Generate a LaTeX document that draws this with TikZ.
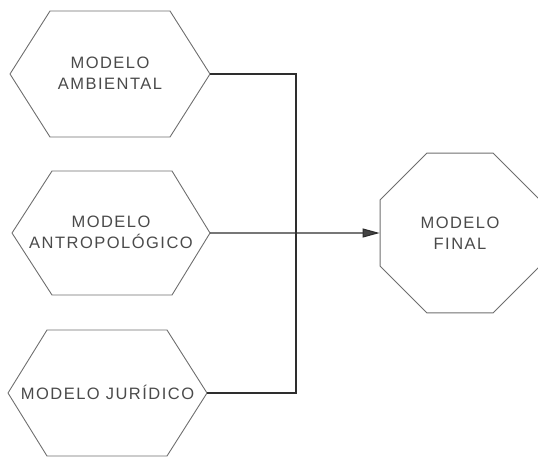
\documentclass[tikz,border=0pt]{standalone}
\usepackage{fontspec}
\setmainfont{Liberation Sans}[LetterSpace=9]
\usetikzlibrary{shapes.geometric,arrows.meta}
\definecolor{shapegray}{HTML}{6E6E6E}
\definecolor{txtgray}{HTML}{4A4A4A}
\definecolor{linegray}{HTML}{2E2E2E}
\definecolor{tipgray}{HTML}{444444}
\tikzset{
  shapeline/.style={draw=shapegray, line width=0.9pt, line join=round},
  lbl/.style={font=\fontsize{16.5}{21}\selectfont, text=txtgray, align=center, inner sep=0pt},
  conn/.style={draw=linegray, line width=1.1pt},
  octa/.style={regular polygon, regular polygon sides=8, minimum size=173pt, inner sep=0pt,
    draw=shapegray, line width=0.9pt, font=\fontsize{16.5}{21}\selectfont, text=txtgray, align=center}
}
\newcommand\hexa[8]{% name, left, right, cy, halfh, topleft, topright, text
  \draw[shapeline] (#2,#4) -- (#6,#4-#5) -- (#7,#4-#5) -- (#3,#4) -- (#7,#4+#5) -- (#6,#4+#5) -- cycle;
  \coordinate (#1E) at (#3,#4);
  \node[lbl] (#1) at ({(#2+#3)/2},#4-1) {#8};
}
\begin{document}
\begin{tikzpicture}[x=1pt,y=-1pt]
\useasboundingbox (0,0) rectangle (538,459);
\hexa{amb}{10}{210}{74}{63}{50}{170}{MODELO\\AMBIENTAL}
\hexa{ant}{12}{210}{233}{62}{52}{172}{MODELO\\ANTROPOLÓGICO}
\hexa{jur}{8}{207}{393}{63}{47}{167}{MODELO JURÍDICO}
\node[octa] (fin) at (460,233) {MODELO\\FINAL};
\coordinate (j1) at (296,74);
\coordinate (j3) at (296,393);
\draw[conn] (ambE) -- (j1) -- (j3) -- (jurE);
\draw[conn, -{Triangle[length=17pt,width=9pt,fill=tipgray]}] (antE) -- (fin.west);
\end{tikzpicture}
\end{document}
